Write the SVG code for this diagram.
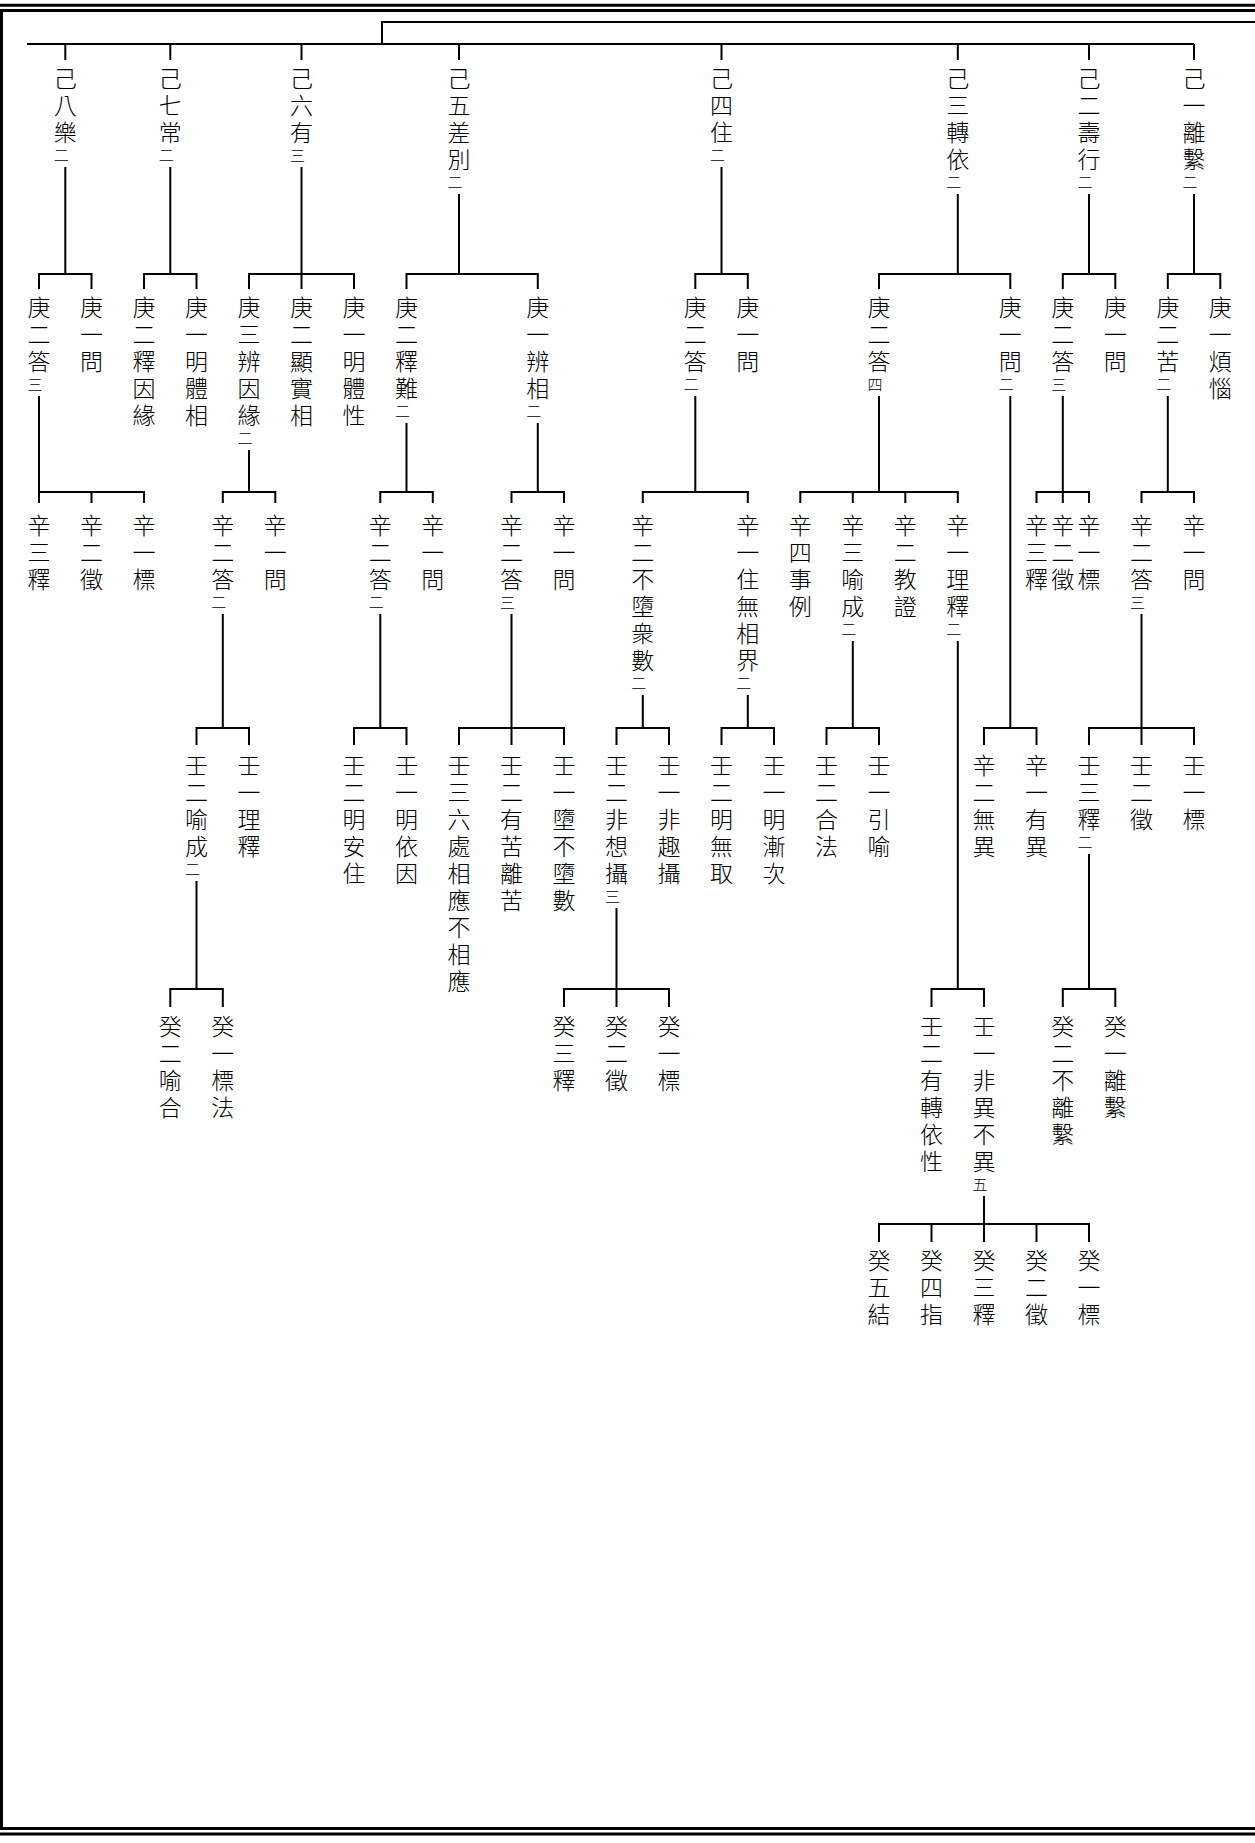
<svg xmlns="http://www.w3.org/2000/svg" width="1255" height="1843" viewBox="0 0 1255 1843">
<style>
.t{font-family:"Noto Sans CJK TC","Noto Sans CJK JP",sans-serif;font-size:23px;font-weight:300;fill:#000;writing-mode:vertical-rl;letter-spacing:4px}
.s{font-size:15px}
.c{fill:none;stroke:#000;stroke-width:2;stroke-linejoin:miter;stroke-linecap:butt}
.f{stroke:#000;stroke-width:3}
</style>
<rect width="1255" height="1843" fill="#fff"/>
<g id="frame">
<line class="f" x1="0" y1="5.3" x2="1255" y2="5.3" stroke-width="2.7"/>
<line class="f" x1="0" y1="10.5" x2="1255" y2="10.5"/>
<line class="f" x1="1.5" y1="9" x2="1.5" y2="1830"/>
<line class="f" x1="0" y1="1828.5" x2="1255" y2="1828.5"/>
<line class="f" x1="0" y1="1834" x2="1255" y2="1834" stroke-width="2.7"/>
</g>
<g id="connectors" class="c">
<path d="M1255,22 H382 V44 M27,44 H1194"/>
<path d="M65.3,44 V60 M170.3,44 V60 M301.5,44 V60 M459,44 V60 M721.5,44 V60 M957.8,44 V60 M1089,44 V60 M1194,44 V60"/>
<path d="M65.3,167 V274 M39,289 V274 H91.5 V289"/>
<path d="M170.3,167 V274 M144,289 V274 H196.5 V289"/>
<path d="M301.5,167 V289 M249,289 V274 H354 V289"/>
<path d="M459,194 V274 M406.5,289 V274 H537.8 V289"/>
<path d="M721.5,167 V274 M695.3,289 V274 H747.8 V289"/>
<path d="M957.8,194 V274 M879,289 V274 H1010.3 V289"/>
<path d="M1089,194 V274 M1062.8,289 V274 H1115.3 V289"/>
<path d="M1194,194 V274 M1167.8,289 V274 H1220.3 V289"/>
<path d="M39,396 V503 M39,492 H144 V503 M91.5,492 V503"/>
<path d="M249,450 V492 M222.8,503 V492 H275.3 V503"/>
<path d="M406.5,423 V492 M380.3,503 V492 H432.8 V503"/>
<path d="M537.8,423 V492 M511.5,503 V492 H564 V503"/>
<path d="M695.3,396 V492 M642.8,503 V492 H747.8 V503"/>
<path d="M879,396 V492 M800.3,503 V492 H957.8 V503 M852.8,492 V503 M905.3,492 V503"/>
<path d="M1062.8,396 V503 M1036.5,503 V492 H1089 V503"/>
<path d="M1167.8,396 V492 M1141.5,503 V492 H1194 V503"/>
<path d="M1010.3,396 V728 M984,745 V728 H1036.5 V745"/>
<path d="M222.8,614 V728 M196.5,745 V728 H249 V745"/>
<path d="M380.3,614 V728 M354,745 V728 H406.5 V745"/>
<path d="M511.5,614 V745 M459,745 V728 H564 V745"/>
<path d="M642.8,695 V728 M616.5,745 V728 H669 V745"/>
<path d="M747.8,695 V728 M721.5,745 V728 H774 V745"/>
<path d="M852.8,641 V728 M826.5,745 V728 H879 V745"/>
<path d="M1141.5,614 V745 M1089,745 V728 H1194 V745"/>
<path d="M957.8,641 V989 M931.5,1007 V989 H984 V1007"/>
<path d="M196.5,881 V989 M170.3,1007 V989 H222.8 V1007"/>
<path d="M616.5,908 V1007 M564,1007 V989 H669 V1007"/>
<path d="M1089,854 V989 M1062.8,1007 V989 H1115.3 V1007"/>
<path d="M984,1196 V1242 M879,1242 V1224 H1089 V1242 M931.5,1224 V1242 M1036.5,1224 V1242"/>
</g>
<g id="a8"><text class="t" x="65.3" y="66.5">己八樂<tspan class="s" dx="-4">二</tspan></text></g>
<g id="a7"><text class="t" x="170.3" y="66.5">己七常<tspan class="s" dx="-4">二</tspan></text></g>
<g id="a6"><text class="t" x="301.5" y="66.5">己六有<tspan class="s" dx="-4">三</tspan></text></g>
<g id="a5"><text class="t" x="459" y="66.5">己五差別<tspan class="s" dx="-4">二</tspan></text></g>
<g id="a4"><text class="t" x="721.5" y="66.5">己四住<tspan class="s" dx="-4">二</tspan></text></g>
<g id="a3"><text class="t" x="957.8" y="66.5">己三轉依<tspan class="s" dx="-4">二</tspan></text></g>
<g id="a2"><text class="t" x="1089" y="66.5">己二壽行<tspan class="s" dx="-4">二</tspan></text></g>
<g id="a1"><text class="t" x="1194" y="66.5">己一離繫<tspan class="s" dx="-4">二</tspan></text></g>
<g id="b1"><text class="t" x="39" y="295.5">庚二答<tspan class="s" dx="-4">三</tspan></text></g>
<g id="b2"><text class="t" x="91.5" y="295.5">庚一問</text></g>
<g id="b3"><text class="t" x="144" y="295.5">庚二釋因緣</text></g>
<g id="b4"><text class="t" x="196.5" y="295.5">庚一明體相</text></g>
<g id="b5"><text class="t" x="249" y="295.5">庚三辨因緣<tspan class="s" dx="-4">二</tspan></text></g>
<g id="b6"><text class="t" x="301.5" y="295.5">庚二顯實相</text></g>
<g id="b7"><text class="t" x="354" y="295.5">庚一明體性</text></g>
<g id="b8"><text class="t" x="406.5" y="295.5">庚二釋難<tspan class="s" dx="-4">二</tspan></text></g>
<g id="b9"><text class="t" x="537.8" y="295.5">庚一辨相<tspan class="s" dx="-4">二</tspan></text></g>
<g id="b10"><text class="t" x="695.3" y="295.5">庚二答<tspan class="s" dx="-4">二</tspan></text></g>
<g id="b11"><text class="t" x="747.8" y="295.5">庚一問</text></g>
<g id="b12"><text class="t" x="879" y="295.5">庚二答<tspan class="s" dx="-4">四</tspan></text></g>
<g id="b13"><text class="t" x="1010.3" y="295.5">庚一問<tspan class="s" dx="-4">二</tspan></text></g>
<g id="b14"><text class="t" x="1062.8" y="295.5">庚二答<tspan class="s" dx="-4">三</tspan></text></g>
<g id="b15"><text class="t" x="1115.3" y="295.5">庚一問</text></g>
<g id="b16"><text class="t" x="1167.8" y="295.5">庚二苦<tspan class="s" dx="-4">二</tspan></text></g>
<g id="b17"><text class="t" x="1220.3" y="295.5">庚一煩惱</text></g>
<g id="c1"><text class="t" x="39" y="513.5">辛三釋</text></g>
<g id="c2"><text class="t" x="91.5" y="513.5">辛二徵</text></g>
<g id="c3"><text class="t" x="144" y="513.5">辛一標</text></g>
<g id="c4"><text class="t" x="222.8" y="513.5">辛二答<tspan class="s" dx="-4">二</tspan></text></g>
<g id="c5"><text class="t" x="275.3" y="513.5">辛一問</text></g>
<g id="c6"><text class="t" x="380.3" y="513.5">辛二答<tspan class="s" dx="-4">二</tspan></text></g>
<g id="c7"><text class="t" x="432.8" y="513.5">辛一問</text></g>
<g id="c8"><text class="t" x="511.5" y="513.5">辛二答<tspan class="s" dx="-4">三</tspan></text></g>
<g id="c9"><text class="t" x="564" y="513.5">辛一問</text></g>
<g id="c10"><text class="t" x="642.8" y="513.5">辛二不墮衆數<tspan class="s" dx="-4">二</tspan></text></g>
<g id="c11"><text class="t" x="747.8" y="513.5">辛一住無相界<tspan class="s" dx="-4">二</tspan></text></g>
<g id="c12"><text class="t" x="800.3" y="513.5">辛四事例</text></g>
<g id="c13"><text class="t" x="852.8" y="513.5">辛三喻成<tspan class="s" dx="-4">二</tspan></text></g>
<g id="c14"><text class="t" x="905.3" y="513.5">辛二教證</text></g>
<g id="c15"><text class="t" x="957.8" y="513.5">辛一理釋<tspan class="s" dx="-4">二</tspan></text></g>
<g id="c16"><text class="t" x="1036.5" y="513.5">辛三釋</text></g>
<g id="c17"><text class="t" x="1062.8" y="513.5">辛二徵</text></g>
<g id="c18"><text class="t" x="1089" y="513.5">辛一標</text></g>
<g id="c19"><text class="t" x="1141.5" y="513.5">辛二答<tspan class="s" dx="-4">三</tspan></text></g>
<g id="c20"><text class="t" x="1194" y="513.5">辛一問</text></g>
<g id="d1"><text class="t" x="196.5" y="753.5">壬二喻成<tspan class="s" dx="-4">二</tspan></text></g>
<g id="d2"><text class="t" x="249" y="753.5">壬一理釋</text></g>
<g id="d3"><text class="t" x="354" y="753.5">壬二明安住</text></g>
<g id="d4"><text class="t" x="406.5" y="753.5">壬一明依因</text></g>
<g id="d5"><text class="t" x="459" y="753.5">壬三六處相應不相應</text></g>
<g id="d6"><text class="t" x="511.5" y="753.5">壬二有苦離苦</text></g>
<g id="d7"><text class="t" x="564" y="753.5">壬一墮不墮數</text></g>
<g id="d8"><text class="t" x="616.5" y="753.5">壬二非想攝<tspan class="s" dx="-4">三</tspan></text></g>
<g id="d9"><text class="t" x="669" y="753.5">壬一非趣攝</text></g>
<g id="d10"><text class="t" x="721.5" y="753.5">壬二明無取</text></g>
<g id="d11"><text class="t" x="774" y="753.5">壬一明漸次</text></g>
<g id="d12"><text class="t" x="826.5" y="753.5">壬二合法</text></g>
<g id="d13"><text class="t" x="879" y="753.5">壬一引喻</text></g>
<g id="d14"><text class="t" x="984" y="753.5">辛二無異</text></g>
<g id="d15"><text class="t" x="1036.5" y="753.5">辛一有異</text></g>
<g id="d16"><text class="t" x="1089" y="753.5">壬三釋<tspan class="s" dx="-4">二</tspan></text></g>
<g id="d17"><text class="t" x="1141.5" y="753.5">壬二徵</text></g>
<g id="d18"><text class="t" x="1194" y="753.5">壬一標</text></g>
<g id="e1"><text class="t" x="170.3" y="1014.5">癸二喻合</text></g>
<g id="e2"><text class="t" x="222.8" y="1014.5">癸一標法</text></g>
<g id="e3"><text class="t" x="564" y="1014.5">癸三釋</text></g>
<g id="e4"><text class="t" x="616.5" y="1014.5">癸二徵</text></g>
<g id="e5"><text class="t" x="669" y="1014.5">癸一標</text></g>
<g id="e6"><text class="t" x="931.5" y="1014.5">壬二有轉依性</text></g>
<g id="e7"><text class="t" x="984" y="1014.5">壬一非異不異<tspan class="s" dx="-4">五</tspan></text></g>
<g id="e8"><text class="t" x="1062.8" y="1014.5">癸二不離繫</text></g>
<g id="e9"><text class="t" x="1115.3" y="1014.5">癸一離繫</text></g>
<g id="f1"><text class="t" x="879" y="1248.5">癸五結</text></g>
<g id="f2"><text class="t" x="931.5" y="1248.5">癸四指</text></g>
<g id="f3"><text class="t" x="984" y="1248.5">癸三釋</text></g>
<g id="f4"><text class="t" x="1036.5" y="1248.5">癸二徵</text></g>
<g id="f5"><text class="t" x="1089" y="1248.5">癸一標</text></g>
</svg>
